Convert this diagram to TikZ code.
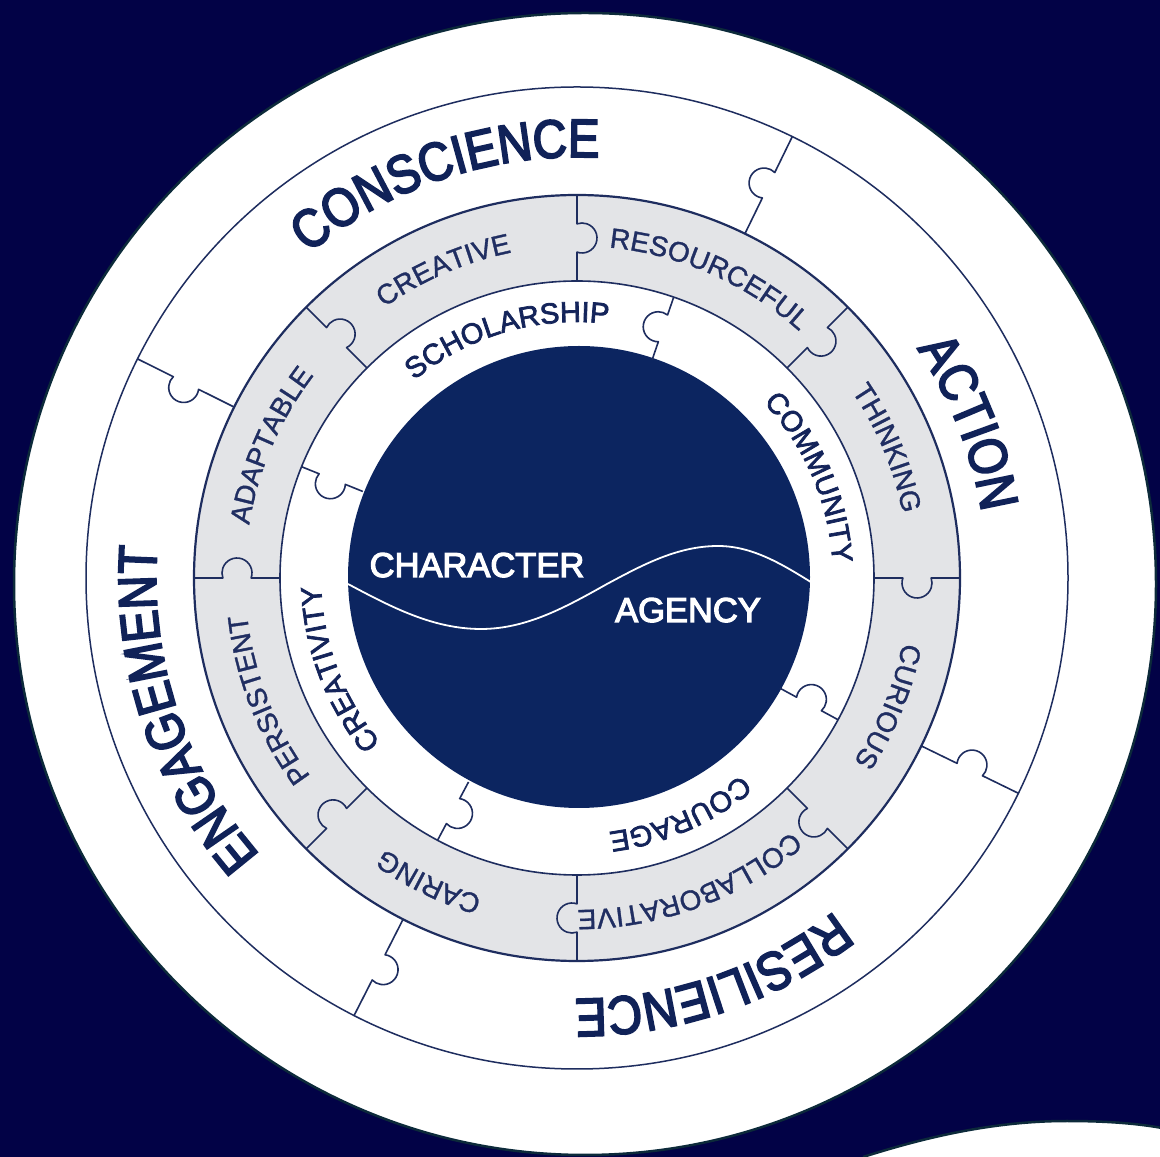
\documentclass[tikz,border=0pt]{standalone}
\usepackage{fontspec}
\setmainfont{Liberation Sans}
\newfontfamily\outerfont[FakeStretch=0.87,FakeBold=3.5]{Liberation Sans}
\newfontfamily\midfont[FakeBold=1.2]{Liberation Sans}
\newfontfamily\innerfont[FakeBold=2.5]{Liberation Sans}
\newfontfamily\corefont[FakeBold=3.5]{Liberation Sans}
\usetikzlibrary{decorations.text}

\definecolor{bgnavy}{RGB}{2,2,70}
\definecolor{corenavy}{RGB}{12,37,96}
\definecolor{linenavy}{RGB}{30,45,95}
\definecolor{ringgray}{RGB}{227,228,231}
\definecolor{outertxt}{RGB}{16,34,88}
\definecolor{midtxt}{RGB}{32,46,98}
\definecolor{innertxt}{RGB}{20,36,90}
\definecolor{edgeteal}{RGB}{12,42,58}

\tikzset{
  ringline/.style={draw=linenavy, line width=1.6pt},
  thinring/.style={draw=linenavy, line width=1.5pt},
  edgeline/.style={draw=edgeteal, line width=2.5pt},
  coretext/.style={text=white, inner sep=0pt, font=\corefont\fontsize{34.5}{40}\selectfont},
}

% text along a clockwise arc centred on angle #3, baseline radius #4
\newcommand\ringlabel[4]{%
  \path[decorate,decoration={text along path,text align=center,text={|#1|#2}}]
    ({#3+80}:#4pt) arc[start angle={#3+80}, end angle={#3-80}, radius=#4pt];}

% puzzle divider, knob toward clockwise side
\newcommand\knobcw[3]{%
  \begin{scope}[rotate=#1]
    \pgfmathsetmacro\kstart{(#2+#3)/2-14.14}
    \draw[ringline, line join=round] (#2pt,0pt) -- (\kstart pt,0pt)
      arc[start angle=160.53, end angle=379.47, radius=15pt] -- (#3pt,0pt);
  \end{scope}}
% puzzle divider, knob toward counter-clockwise side
\newcommand\knobccw[3]{%
  \begin{scope}[rotate=#1]
    \pgfmathsetmacro\kstart{(#2+#3)/2-14.14}
    \draw[ringline, line join=round] (#2pt,0pt) -- (\kstart pt,0pt)
      arc[start angle=199.47, end angle=-19.47, radius=15pt] -- (#3pt,0pt);
  \end{scope}}

\newcommand\outerfmt{\outerfont\fontsize{54}{60}\selectfont\color{outertxt}}
\newcommand\midfmt{\midfont\fontsize{28}{32}\selectfont\color{midtxt}}
\newcommand\innerfmt{\innerfont\fontsize{29}{33}\selectfont\color{innertxt}}

\begin{document}
\begin{tikzpicture}[x=1pt,y=1pt]
\useasboundingbox (0,0) rectangle (1160,1157);
\fill[bgnavy] (0,0) rectangle (1160,1157);

% bottom-right white lobe
\fill[white] (863,-2) -- (863,0) .. controls (920,18) and (990,36) .. (1067,36)
  .. controls (1110,36) and (1140,33) .. (1162,29) -- (1162,-2) -- cycle;
\draw[edgeline] (863,0) .. controls (920,18) and (990,36) .. (1067,36)
  .. controls (1110,36) and (1140,33) .. (1162,29);

% big white disc
\filldraw[fill=white, edgeline] (585,573) circle[radius=571pt];

\begin{scope}[shift={(577,579)}]
  % rings
  \draw[thinring] (0,0) circle[radius=491pt];
  \fill[ringgray, even odd rule] (0,0) circle[radius=383pt] circle[radius=297pt];
  \draw[ringline, line width=2.2pt] (0,0) circle[radius=383pt];
  \draw[ringline] (0,0) circle[radius=297pt];

  % core disc and wave
  \fill[corenavy] (2,1) circle[radius=231pt];
  \begin{scope}
    \clip (2,1) circle[radius=231pt];
    \draw[white, line width=1.8pt] (-229,-6) sin (-96,-51) cos (30,-6) sin (141,32) cos (237,-6);
  \end{scope}
  \node[coretext, anchor=base] (character) at (-100,1) {CHARACTER};
  \node[coretext, anchor=base] (agency) at (111,-44) {AGENCY};

  % outer ring dividers
  \knobccw{64}{383}{491}
  \knobccw{153.5}{383}{491}
  \knobccw{243}{383}{491}
  \knobccw{334}{383}{491}

  % grey ring dividers
  \foreach \a in {0,45,...,315} {\knobcw{\a}{297}{383}}

  % inner ring dividers
  \knobccw{71}{231}{297}
  \knobccw{158}{231}{297}
  \knobccw{242}{231}{297}
  \knobccw{331.5}{231}{297}

  % outer labels
  \ringlabel{\outerfmt}{CONSCIENCE}{108.3}{421}
  \ringlabel{\outerfmt}{ACTION}{21.6}{410}
  \ringlabel{\outerfmt}{RESILIENCE}{-71.3}{421}
  \ringlabel{\outerfmt}{ENGAGEMENT}{198.4}{421}

  % grey ring labels
  \ringlabel{\midfmt}{CREATIVE}{113.4}{332}
  \ringlabel{\midfmt}{RESOURCEFUL}{66.2}{332}
  \ringlabel{\midfmt}{THINKING}{22.7}{332}
  \ringlabel{\midfmt}{CURIOUS}{-22.4}{332}
  \ringlabel{\midfmt}{COLLABORATIVE}{-69.8}{332}
  \ringlabel{\midfmt}{CARING}{244}{332}
  \ringlabel{\midfmt}{PERSISTENT}{201.5}{332}
  \ringlabel{\midfmt}{ADAPTABLE}{156.6}{332}

  % inner ring labels
  \ringlabel{\innerfmt}{SCHOLARSHIP}{106.2}{256}
  \ringlabel{\innerfmt}{COMMUNITY}{23.3}{256}
  \ringlabel{\innerfmt}{COURAGE}{-66.5}{256}
  \ringlabel{\innerfmt}{CREATIVITY}{200.9}{256}
\end{scope}
\end{tikzpicture}
\end{document}
